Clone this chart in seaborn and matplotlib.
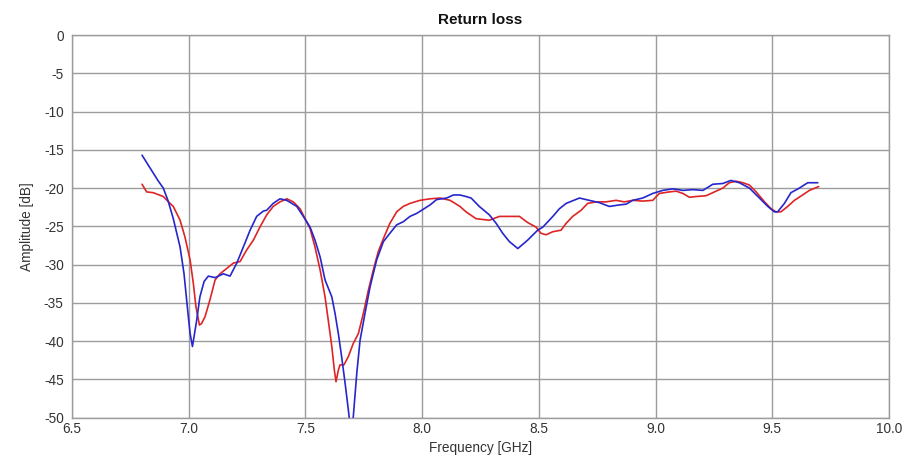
import numpy as np
import pandas as pd
import matplotlib
matplotlib.use("Agg")
import matplotlib.pyplot as plt
import seaborn as sns

# Measured return loss, two antenna samples
freq_blue = [6.80, 6.868, 6.891, 6.911, 6.934, 6.963, 6.98, 6.994, 7.006, 7.016,
             7.034, 7.048, 7.066, 7.084, 7.113, 7.148, 7.177, 7.206, 7.234, 7.263,
             7.291, 7.32, 7.334, 7.362, 7.391, 7.42, 7.463, 7.491, 7.52, 7.541,
             7.563, 7.584, 7.613, 7.627, 7.641, 7.655, 7.67, 7.684, 7.695, 7.705,
             7.72, 7.734, 7.755, 7.777, 7.805, 7.834, 7.862, 7.891, 7.919, 7.948,
             7.977, 7.998, 8.034, 8.062, 8.105, 8.134, 8.162, 8.188, 8.21, 8.245,
             8.288, 8.317, 8.345, 8.374, 8.41, 8.452, 8.495, 8.517, 8.56, 8.588,
             8.617, 8.674, 8.716, 8.759, 8.802, 8.845, 8.874, 8.902, 8.945, 8.988,
             9.031, 9.074, 9.117, 9.16, 9.203, 9.245, 9.288, 9.323, 9.359, 9.402,
             9.445, 9.481, 9.509, 9.523, 9.552, 9.58, 9.616, 9.652, 9.695]
db_blue = [-15.7, -19.0, -20.0, -21.6, -24.0, -27.7, -31.2, -35.5, -39.0, -40.7,
           -37.3, -34.2, -32.2, -31.5, -31.7, -31.2, -31.5, -29.8, -27.7, -25.5,
           -23.7, -23.0, -22.9, -22.0, -21.4, -21.6, -22.4, -23.7, -25.1, -26.8,
           -29.0, -32.0, -34.2, -36.4, -39.0, -42.0, -45.5, -49.0, -52.0, -49.9,
           -44.2, -39.9, -36.4, -32.9, -29.4, -27.0, -25.9, -24.8, -24.4, -23.7,
           -23.3, -22.9, -22.2, -21.5, -21.3, -20.9, -20.9, -21.1, -21.3, -22.4,
           -23.5, -24.6, -25.9, -27.0, -27.9, -26.8, -25.5, -25.1, -23.7, -22.7,
           -22.0, -21.3, -21.6, -21.9, -22.4, -22.2, -22.1, -21.6, -21.3, -20.7,
           -20.3, -20.1, -20.3, -20.2, -20.3, -19.5, -19.4, -19.0, -19.3, -20.0,
           -21.3, -22.4, -23.1, -23.1, -22.0, -20.6, -20.0, -19.3, -19.3]

freq_red = [6.80, 6.82, 6.848, 6.891, 6.92, 6.934, 6.963, 6.984, 7.006, 7.02,
            7.031, 7.046, 7.055, 7.07, 7.091, 7.113, 7.134, 7.163, 7.191, 7.22,
            7.248, 7.277, 7.305, 7.334, 7.362, 7.391, 7.42, 7.448, 7.477, 7.52,
            7.541, 7.563, 7.584, 7.598, 7.613, 7.624, 7.631, 7.641, 7.648, 7.665,
            7.684, 7.705, 7.727, 7.748, 7.77, 7.791, 7.812, 7.834, 7.862, 7.891,
            7.919, 7.948, 7.991, 8.034, 8.077, 8.12, 8.162, 8.188, 8.231, 8.288,
            8.331, 8.374, 8.417, 8.452, 8.488, 8.509, 8.531, 8.56, 8.595, 8.617,
            8.645, 8.681, 8.709, 8.745, 8.788, 8.831, 8.866, 8.902, 8.945, 8.988,
            9.016, 9.059, 9.088, 9.117, 9.145, 9.174, 9.216, 9.245, 9.288, 9.316,
            9.345, 9.374, 9.402, 9.431, 9.467, 9.495, 9.516, 9.537, 9.566, 9.595,
            9.63, 9.659, 9.699]
db_red = [-19.5, -20.5, -20.6, -21.1, -22.0, -22.4, -24.2, -26.4, -29.4, -32.5,
          -35.5, -37.9, -37.7, -36.8, -34.6, -32.0, -31.2, -30.5, -29.8, -29.6,
          -28.1, -26.8, -25.1, -23.5, -22.4, -21.8, -21.4, -21.8, -22.7, -25.3,
          -27.7, -30.7, -34.2, -37.3, -40.7, -43.8, -45.3, -43.8, -43.1, -43.1,
          -42.0, -40.3, -39.0, -36.4, -33.3, -30.7, -28.3, -26.6, -24.6, -23.1,
          -22.4, -22.0, -21.6, -21.4, -21.3, -21.6, -22.4, -23.1, -24.0, -24.2,
          -23.7, -23.7, -23.7, -24.5, -25.1, -25.9, -26.1, -25.7, -25.5, -24.6,
          -23.7, -22.9, -22.0, -21.8, -21.8, -21.6, -21.8, -21.6, -21.7, -21.6,
          -20.7, -20.5, -20.4, -20.7, -21.2, -21.1, -21.0, -20.6, -20.0, -19.3,
          -19.1, -19.3, -19.6, -20.5, -21.8, -22.7, -23.1, -23.1, -22.4, -21.6,
          -20.9, -20.3, -19.8]

x_ticks = [6.5, 7.0, 7.5, 8.0, 8.5, 9.0, 9.5, 10.0]
y_ticks = [0, -5, -10, -15, -20, -25, -30, -35, -40, -45, -50]

sns.set_theme(style="white")
plt.rcParams["font.family"] = ["Liberation Sans", "DejaVu Sans"]
plt.rcParams["axes.unicode_minus"] = False

grid_col = "#9c9c9c"
fig = plt.figure(figsize=(9.16, 4.62), dpi=100)
ax = fig.add_axes([0.0786, 0.0959, 0.8919, 0.8283])

sns.lineplot(x=freq_red, y=db_red, ax=ax, color="#de2424", linewidth=1.2,
             sort=False, estimator=None)
sns.lineplot(x=freq_blue, y=db_blue, ax=ax, color="#2626cc", linewidth=1.2,
             sort=False, estimator=None)

ax.set_xlim(6.5, 10.0)
ax.set_ylim(-50, 0)
ax.set_xticks(x_ticks)
ax.set_xticklabels([f"{v:.1f}" for v in x_ticks])
ax.set_yticks(y_ticks)
ax.set_yticklabels([str(v) for v in y_ticks])
ax.grid(True, color=grid_col, linewidth=1.0)
for s in ax.spines.values():
    s.set_color(grid_col)
    s.set_linewidth(1.0)
ax.tick_params(axis="both", length=0, labelsize=9.8, colors="#333333")
ax.tick_params(axis="y", pad=6)
ax.tick_params(axis="x", pad=3)

ax.set_title("Return loss", fontsize=11, fontweight="bold", color="#111111", pad=8)
ax.set_xlabel("Frequency [GHz]", fontsize=9.8, color="#333333", labelpad=4)
ax.set_ylabel("Amplitude [dB]", fontsize=9.8, color="#333333", labelpad=7)

fig.savefig("out.png", dpi=100)
